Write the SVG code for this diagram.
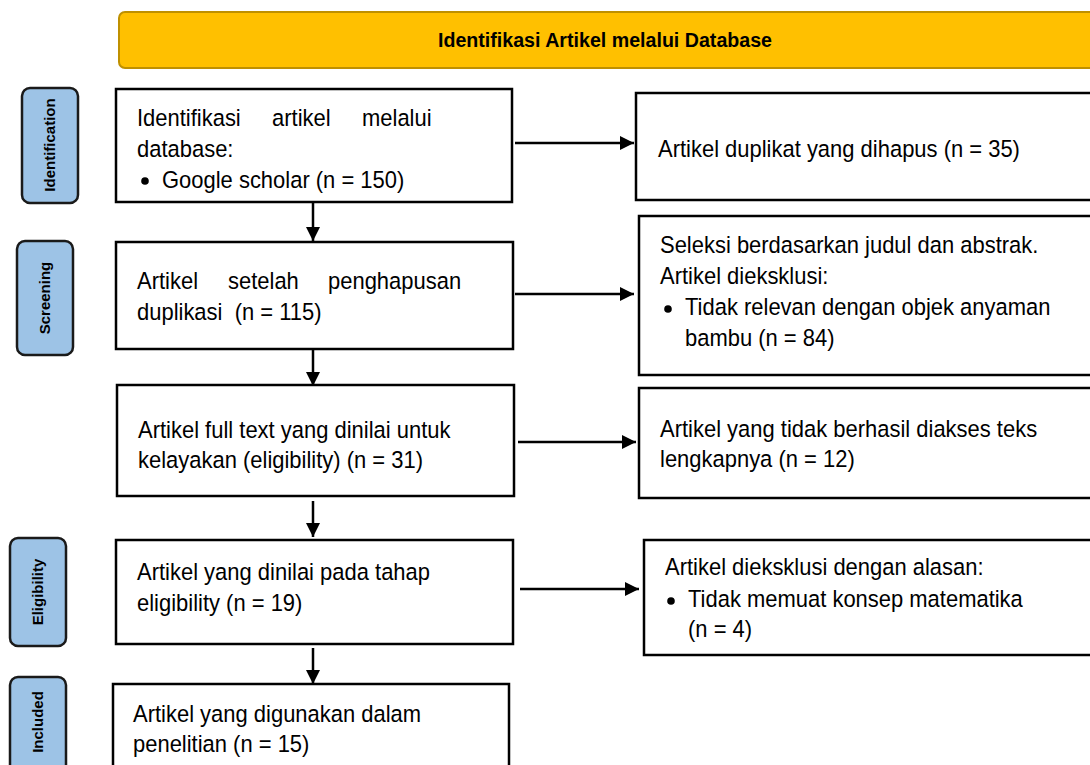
<svg xmlns="http://www.w3.org/2000/svg" width="1090" height="765" viewBox="0 0 1090 765">
<defs>
<style>
.box{fill:#fff;stroke:#000;stroke-width:2.5}
.side{fill:#9dc3e6;stroke:#1a1a1a;stroke-width:2.5}
.t{font-family:"Liberation Sans",Arial,sans-serif;font-size:23.5px;fill:#000;white-space:pre}
.s{font-family:"Liberation Sans",Arial,sans-serif;font-size:15px;font-weight:bold;fill:#000}
.h{font-family:"Liberation Sans",Arial,sans-serif;font-size:21px;font-weight:bold;fill:#000}
.c{stroke:#000;stroke-width:2.5;fill:none}
.dot{fill:#000}
</style>
<marker id="ah" markerUnits="userSpaceOnUse" markerWidth="16" markerHeight="16" refX="14" refY="7" orient="auto">
<path d="M0,0 L14,7 L0,14 Z" fill="#000"/>
</marker>
</defs>
<rect width="1090" height="765" fill="#fff"/>

<g id="header">
<rect x="119" y="12" width="985" height="56" rx="6" fill="#ffc000" stroke="#bf9000" stroke-width="2"/>
<text class="h" transform="matrix(0.935,0,0,1,605,0)" x="0" y="47" text-anchor="middle">Identifikasi Artikel melalui Database</text>
</g>

<g id="label-identification">
<rect class="side" x="22" y="88" width="56" height="115" rx="8"/>
<text class="s" transform="translate(55,145) rotate(-90)" text-anchor="middle">Identification</text>
</g>
<g id="label-screening">
<rect class="side" x="17" y="241" width="56" height="114" rx="8"/>
<text class="s" transform="translate(50,298) rotate(-90)" text-anchor="middle">Screening</text>
</g>
<g id="label-eligibility">
<rect class="side" x="10" y="538" width="56" height="108" rx="8"/>
<text class="s" transform="translate(43,592) rotate(-90)" text-anchor="middle">Eligibility</text>
</g>
<g id="label-included">
<rect class="side" x="10" y="677" width="56" height="100" rx="8"/>
<text class="s" transform="translate(43,722) rotate(-90)" text-anchor="middle">Included</text>
</g>

<g id="box-identifikasi">
<rect class="box" x="116" y="89" width="396" height="113"/>
<text class="t" transform="matrix(0.935,0,0,1,137,0)" x="0" y="126">Identifikasi</text>
<text class="t" transform="matrix(0.935,0,0,1,272,0)" x="0" y="126">artikel</text>
<text class="t" transform="matrix(0.935,0,0,1,362,0)" x="0" y="126">melalui</text>
<text class="t" transform="matrix(0.935,0,0,1,137,0)" x="0" y="157">database:</text>
<circle class="dot" cx="145" cy="181" r="3.8"/>
<text class="t" transform="matrix(0.935,0,0,1,162,0)" x="0" y="188">Google scholar (n = 150)</text>
</g>

<g id="box-duplikat">
<rect class="box" x="636" y="93" width="470" height="107"/>
<text class="t" transform="matrix(0.935,0,0,1,658,0)" x="0" y="157">Artikel duplikat yang dihapus (n = 35)</text>
</g>

<g id="box-setelah">
<rect class="box" x="116" y="242" width="397" height="107"/>
<text class="t" transform="matrix(0.935,0,0,1,137,0)" x="0" y="289">Artikel</text>
<text class="t" transform="matrix(0.935,0,0,1,228,0)" x="0" y="289">setelah</text>
<text class="t" transform="matrix(0.935,0,0,1,328,0)" x="0" y="289">penghapusan</text>
<text class="t" transform="matrix(0.935,0,0,1,137,0)" x="0" y="320">duplikasi  (n = 115)</text>
</g>

<g id="box-seleksi">
<rect class="box" x="639" y="216" width="467" height="159"/>
<text class="t" transform="matrix(0.935,0,0,1,660,0)" x="0" y="253">Seleksi berdasarkan judul dan abstrak.</text>
<text class="t" transform="matrix(0.935,0,0,1,660,0)" x="0" y="284">Artikel dieksklusi:</text>
<circle class="dot" cx="668" cy="309" r="3.8"/>
<text class="t" transform="matrix(0.935,0,0,1,685,0)" x="0" y="315">Tidak relevan dengan objek anyaman</text>
<text class="t" transform="matrix(0.935,0,0,1,685,0)" x="0" y="346">bambu (n = 84)</text>
</g>

<g id="box-fulltext">
<rect class="box" x="117" y="385" width="397" height="111"/>
<text class="t" transform="matrix(0.935,0,0,1,138,0)" x="0" y="438">Artikel full text yang dinilai untuk</text>
<text class="t" transform="matrix(0.935,0,0,1,138,0)" x="0" y="468">kelayakan (eligibility) (n = 31)</text>
</g>

<g id="box-tidakakses">
<rect class="box" x="639" y="388" width="467" height="110"/>
<text class="t" transform="matrix(0.935,0,0,1,660,0)" x="0" y="437">Artikel yang tidak berhasil diakses teks</text>
<text class="t" transform="matrix(0.935,0,0,1,660,0)" x="0" y="467">lengkapnya (n = 12)</text>
</g>

<g id="box-dinilai">
<rect class="box" x="116" y="540" width="397" height="104"/>
<text class="t" transform="matrix(0.935,0,0,1,137,0)" x="0" y="580">Artikel yang dinilai pada tahap</text>
<text class="t" transform="matrix(0.935,0,0,1,137,0)" x="0" y="611">eligibility (n = 19)</text>
</g>

<g id="box-alasan">
<rect class="box" x="644" y="540" width="462" height="115"/>
<text class="t" transform="matrix(0.935,0,0,1,665,0)" x="0" y="575">Artikel dieksklusi dengan alasan:</text>
<circle class="dot" cx="671" cy="601" r="3.8"/>
<text class="t" transform="matrix(0.935,0,0,1,688,0)" x="0" y="607">Tidak memuat konsep matematika</text>
<text class="t" transform="matrix(0.935,0,0,1,688,0)" x="0" y="637">(n = 4)</text>
</g>

<g id="box-digunakan">
<rect class="box" x="113" y="684" width="396" height="90"/>
<text class="t" transform="matrix(0.935,0,0,1,133,0)" x="0" y="722">Artikel yang digunakan dalam</text>
<text class="t" transform="matrix(0.935,0,0,1,133,0)" x="0" y="752">penelitian (n = 15)</text>
</g>

<g id="connectors">
<line class="c" x1="313" y1="203" x2="313" y2="241" marker-end="url(#ah)"/>
<line class="c" x1="313" y1="350" x2="313" y2="386" marker-end="url(#ah)"/>
<line class="c" x1="313" y1="501" x2="313" y2="537" marker-end="url(#ah)"/>
<line class="c" x1="313" y1="648" x2="313" y2="684" marker-end="url(#ah)"/>
<line class="c" x1="515" y1="143" x2="634" y2="143" marker-end="url(#ah)"/>
<line class="c" x1="515" y1="294" x2="634" y2="294" marker-end="url(#ah)"/>
<line class="c" x1="518" y1="442" x2="636" y2="442" marker-end="url(#ah)"/>
<line class="c" x1="520" y1="589" x2="639" y2="589" marker-end="url(#ah)"/>
</g>
</svg>
